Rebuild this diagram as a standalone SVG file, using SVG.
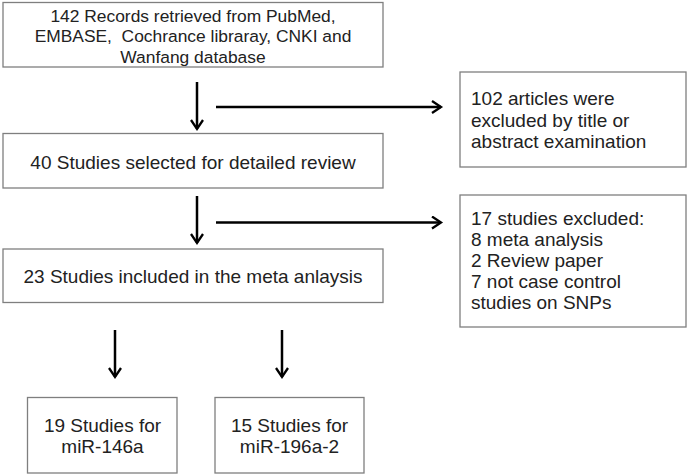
<svg xmlns="http://www.w3.org/2000/svg" width="689" height="476" viewBox="0 0 689 476">
<defs>
<style>
.box{fill:#fff;stroke:#7f7f7f;stroke-width:1.3}
.t{font-family:"Liberation Sans",Arial,sans-serif;font-size:19px;fill:#222;white-space:pre}
.s{font-size:17.4px}
.c{text-anchor:middle}
.ln{stroke:#000;stroke-width:2.5;fill:none}
</style>
<marker id="ah" markerWidth="14" markerHeight="14" viewBox="0 0 12 14" refX="10" refY="7" orient="auto" markerUnits="userSpaceOnUse">
<path d="M1,1 L10,7 L1,13" fill="none" stroke="#000" stroke-width="2.3"/>
</marker>
</defs>
<rect width="689" height="476" fill="#fff"/>
<g id="n1"><rect class="box" x="3" y="2.5" width="380" height="64.5"/>
<text class="t s c" x="193" y="21.5">142 Records retrieved from PubMed,</text>
<text class="t s c" x="193" y="42.3" xml:space="preserve">EMBASE,  Cochrance libraray, CNKI and</text>
<text class="t s c" x="193" y="62.7">Wanfang database</text></g>
<g id="n2"><rect class="box" x="3" y="133.5" width="380" height="54.5"/>
<text class="t c" x="193" y="169">40 Studies selected for detailed review</text></g>
<g id="n3"><rect class="box" x="3" y="249" width="380" height="53.5"/>
<text class="t c" x="193" y="283">23 Studies included in the meta anlaysis</text></g>
<g id="n4"><rect class="box" x="460" y="72" width="226" height="95"/>
<text class="t" x="471" y="105">102 articles were</text>
<text class="t" x="471" y="126.5">excluded by title or</text>
<text class="t" x="471" y="148">abstract examination</text></g>
<g id="n5"><rect class="box" x="460" y="195" width="226" height="132"/>
<text class="t" x="471" y="225">17 studies excluded:</text>
<text class="t" x="471" y="246">8 meta analysis</text>
<text class="t" x="471" y="267">2 Review paper</text>
<text class="t" x="471" y="288">7 not case control</text>
<text class="t" x="471" y="309">studies on SNPs</text></g>
<g id="n6"><rect class="box" x="27.5" y="397.5" width="149.5" height="75.5"/>
<text class="t c" x="102.5" y="432">19 Studies for</text>
<text class="t c" x="102.5" y="453">miR-146a</text></g>
<g id="n7"><rect class="box" x="215" y="397.5" width="149" height="75.5"/>
<text class="t c" x="289.5" y="432">15 Studies for</text>
<text class="t c" x="289.5" y="453">miR-196a-2</text></g>
<g id="connectors">
<line class="ln" x1="197" y1="82" x2="197" y2="129" marker-end="url(#ah)"/>
<line class="ln" x1="216" y1="107" x2="441" y2="107" marker-end="url(#ah)"/>
<line class="ln" x1="197" y1="196" x2="197" y2="243" marker-end="url(#ah)"/>
<line class="ln" x1="216" y1="222.5" x2="441" y2="222.5" marker-end="url(#ah)"/>
<line class="ln" x1="115" y1="330" x2="115" y2="377" marker-end="url(#ah)"/>
<line class="ln" x1="282" y1="330" x2="282" y2="377" marker-end="url(#ah)"/>
</g>
</svg>
